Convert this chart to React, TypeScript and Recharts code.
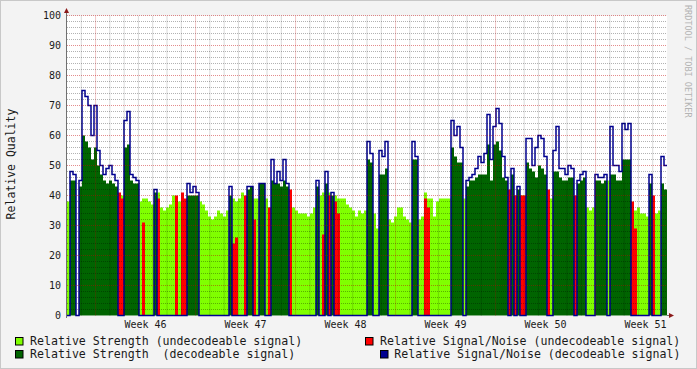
import { ComposedChart, Area, Line, XAxis, YAxis, ReferenceLine } from "recharts";

const C = {
  back: "#f3f3f3",
  canvas: "#ffffff",
  lightGreen: "#80ff00",
  darkGreen: "#006400",
  red: "#ff0000",
  blue: "#000090",
  text: "#1a1a1a",
  axis: "#707070",
  arrow: "#8b1a1a",
  mono: "'DejaVu Sans Mono', monospace",
} as const;

// 42 days shown, Saturday before week 46 .. Thursday of week 51
const DAYS = 42;
const weekLabels = ["Week 46", "Week 47", "Week 48", "Week 49", "Week 50", "Week 51"];
const weekMid = [5.5, 12.5, 19.5, 26.5, 33.5, 40.5];
const weekStart = [2, 9, 16, 23, 30, 37];
const yTicks = [0, 10, 20, 30, 40, 50, 60, 70, 80, 90, 100];

// one sample per 3px column, U = undecodeable, D = decodeable
const kind =
  "UDDDDDDDDD" + "DDDDDDDUUD" + "DDDDUUUUUD" + "UUUUUUUUUU" + "DDDDUUUUUU" +
  "UUUUDUUUUU" + "DDUUDDUUDD" + "DDDDUUUUUU" + "UUUDUUDUDU" + "UUUUUUUUUU" +
  "DDUUDDDUUU" + "UUUUUDDUUU" + "UUUUUUUUDD" + "DDUDDDDDDD" + "DDDDDDDUDU" +
  "DUUDDDDDDD" + "UUDDDDDDDU" + "DDDUUUDDDD" + "UDDDDDDDUU" + "UUUUDUUUDD";

const strength = [
  38, 45, 45, 0, 43, 60, 58, 56, 52, 56,
  50, 47, 45, 44, 45, 44, 43, 38, 40, 56,
  57, 45, 44, 44, 38, 39, 39, 38, 37, 41,
  41, 36, 35, 36, 37, 40, 38, 38, 39, 38,
  40, 40, 40, 40, 38, 37, 35, 33, 32, 33,
  35, 34, 33, 35, 40, 39, 38, 39, 41, 39,
  42, 43, 39, 39, 44, 44, 39, 36, 45, 44,
  44, 43, 45, 43, 39, 36, 35, 34, 34, 34,
  33, 34, 36, 43, 40, 41, 44, 41, 40, 40,
  39, 39, 39, 37, 36, 35, 33, 35, 34, 35,
  52, 51, 34, 29, 47, 47, 49, 32, 31, 33,
  36, 36, 33, 32, 31, 52, 52, 32, 33, 41,
  39, 39, 33, 38, 39, 39, 39, 39, 56, 53,
  51, 51, 39, 43, 45, 45, 46, 47, 47, 47,
  57, 45, 57, 58, 55, 46, 45, 38, 47, 40,
  42, 40, 40, 51, 49, 48, 46, 50, 49, 47,
  38, 39, 48, 48, 46, 45, 45, 46, 46, 38,
  44, 45, 46, 36, 35, 36, 45, 45, 44, 45,
  45, 47, 47, 45, 45, 52, 52, 52, 36, 35,
  36, 34, 34, 33, 44, 35, 34, 35, 44, 42,
];

const snr = [
  0, 48, 47, 0, 45, 75, 73, 70, 60, 70,
  55, 50, 47, 49, 50, 47, 45, 41, 39, 65,
  68, 47, 46, 45, 0, 31, 0, 0, 0, 42,
  39, 0, 0, 0, 0, 0, 40, 0, 41, 39,
  44, 41, 43, 41, 0, 0, 0, 0, 0, 0,
  0, 0, 0, 0, 43, 24, 26, 0, 0, 40,
  43, 43, 32, 0, 44, 44, 0, 36, 52, 44,
  48, 45, 52, 44, 42, 0, 0, 0, 0, 0,
  0, 0, 0, 45, 0, 27, 48, 40, 41, 38,
  34, 0, 0, 0, 0, 0, 0, 0, 0, 0,
  58, 54, 0, 0, 55, 53, 58, 0, 0, 0,
  0, 0, 0, 0, 0, 58, 53, 0, 0, 39,
  36, 0, 0, 0, 0, 0, 0, 0, 65, 60,
  63, 56, 0, 45, 46, 47, 49, 53, 51, 54,
  67, 52, 63, 69, 64, 53, 46, 42, 49, 40,
  43, 40, 40, 59, 59, 50, 56, 60, 59, 53,
  42, 0, 55, 63, 49, 49, 47, 50, 49, 40,
  45, 47, 48, 0, 0, 0, 47, 46, 46, 47,
  0, 63, 50, 50, 48, 64, 62, 64, 38, 29,
  0, 0, 0, 0, 47, 40, 0, 0, 53, 50,
];

const rows = strength.map((s, i) => {
  const dec = kind[i] === "D";
  return {
    t: (i * DAYS) / strength.length,
    lg: dec ? 0 : s,
    red: dec ? 0 : snr[i],
    dg: dec ? s : 0,
    blue: dec ? snr[i] : 0,
  };
});
// close the last step at the right edge
rows.push({ ...rows[rows.length - 1], t: DAYS });

const dayLines = Array.from({ length: DAYS - 1 }, (_, i) => i + 1).filter(d => !weekStart.includes(d));
const minorY = Array.from({ length: 49 }, (_, i) => (i + 1) * 2).filter(v => v % 10 !== 0);

const legend = [
  { x: 15, y: 337, tx: 30, ty: 345, color: C.lightGreen, label: "Relative Strength (undecodeable signal)" },
  { x: 15, y: 350, tx: 30, ty: 358.3, color: C.darkGreen, label: "Relative Strength  (decodeable signal)" },
  { x: 365, y: 337, tx: 380, ty: 345, color: C.red, label: "Relative Signal/Noise (undecodeable signal)" },
  { x: 380, y: 350, tx: 394.3, ty: 358.3, color: C.blue, label: "Relative Signal/Noise (decodeable signal)" },
];

export default function App() {
  return (
    <div style={{ position: "absolute", left: 0, top: 0, width: 697, height: 369, background: C.back, overflow: "hidden" }}>
      <div style={{ position: "absolute", left: 67, top: 15.5, width: 600, height: 300, background: C.canvas }} />
      <div style={{ position: "absolute", left: 0, top: 0 }}>
        <ComposedChart
          width={697}
          height={369}
          data={rows}
          margin={{ top: 15.5, right: 30, bottom: 33.5, left: 0 }}
        >
          <XAxis
            dataKey="t"
            type="number"
            domain={[0, DAYS]}
            ticks={weekMid}
            tickFormatter={(v: number) => weekLabels[weekMid.indexOf(v)] ?? ""}
            interval={0}
            height={20}
            axisLine={false}
            tickLine={false}
            tickSize={0}
            tickMargin={5.5}
            tick={{ fontFamily: C.mono, fontSize: 10, fill: C.text }}
          />
          <YAxis
            type="number"
            domain={[0, 100]}
            ticks={yTicks}
            interval={0}
            width={67}
            axisLine={false}
            tickLine={false}
            tickSize={0}
            tickMargin={6}
            tick={{ fontFamily: C.mono, fontSize: 10, fill: C.text }}
          />
          <Area type="stepAfter" dataKey="lg" fill={C.lightGreen} fillOpacity={1} stroke="none" isAnimationActive={false} />
          <Area type="stepAfter" dataKey="red" fill={C.red} fillOpacity={1} stroke="none" isAnimationActive={false} />
          <Area type="stepAfter" dataKey="dg" fill={C.darkGreen} fillOpacity={1} stroke="none" isAnimationActive={false} />
          <Line type="stepAfter" dataKey="blue" stroke={C.blue} strokeWidth={1.5} dot={false} activeDot={false} isAnimationActive={false} />
          {dayLines.map(d => (
            <ReferenceLine key={`d${d}`} x={d} stroke="#000" strokeOpacity={0.3} strokeDasharray="1 1" />
          ))}
          {minorY.map(v => (
            <ReferenceLine key={`m${v}`} y={v} stroke="#000" strokeOpacity={0.3} strokeDasharray="1 1" />
          ))}
          {weekStart.map(d => (
            <ReferenceLine key={`w${d}`} x={d} stroke="#c00000" strokeOpacity={0.45} strokeDasharray="1 1" />
          ))}
          {yTicks.filter(v => v > 0).map(v => (
            <ReferenceLine key={`y${v}`} y={v} stroke="#c00000" strokeOpacity={0.45} strokeDasharray="1 1" />
          ))}
        </ComposedChart>
      </div>
      <svg width={697} height={369} style={{ position: "absolute", left: 0, top: 0, pointerEvents: "none" }}>
        <line x1={66.5} y1={11} x2={66.5} y2={318} stroke={C.axis} strokeWidth={1} />
        <line x1={667} y1={315.5} x2={670} y2={315.5} stroke={C.axis} strokeWidth={1} />
        <polygon points="64,13 69,13 66.5,8" fill={C.arrow} />
        <polygon points="669,313 669,318 674,315.5" fill={C.arrow} />
        <text
          transform="translate(15,164) rotate(-90)"
          textAnchor="middle"
          fontFamily={C.mono}
          fontSize={11.5}
          fill={C.text}
        >
          Relative Quality
        </text>
        <text
          transform="translate(685,5) rotate(90)"
          fontFamily={C.mono}
          fontSize={8.5}
          fill="#b4b4b4"
        >
          RRDTOOL / TOBI OETIKER
        </text>
        {legend.map(l => (
          <g key={l.label}>
            <rect x={l.x + 0.5} y={l.y + 0.5} width={7.5} height={7.5} fill={l.color} stroke="#000" strokeWidth={1} />
            <text x={l.tx} y={l.ty} fontFamily={C.mono} fontSize={11.6} fill={C.text} style={{ whiteSpace: "pre" }}>
              {l.label}
            </text>
          </g>
        ))}
        <rect x={0.5} y={0.5} width={696} height={368} fill="none" stroke="#c8c8c8" strokeWidth={1} />
      </svg>
    </div>
  );
}
